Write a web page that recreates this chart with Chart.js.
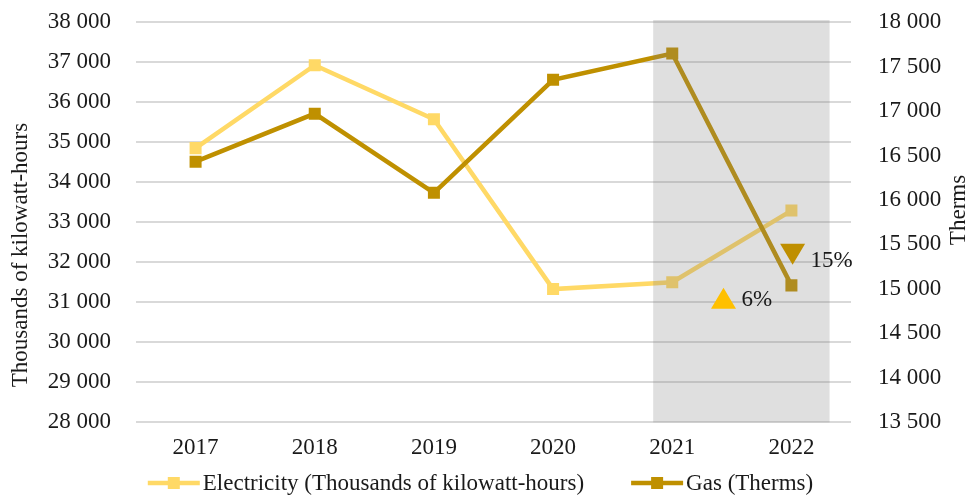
<!DOCTYPE html>
<html><head><meta charset="utf-8">
<script src="https://cdn.jsdelivr.net/npm/chart.js@4"></script>
<style>html,body{margin:0;padding:0;background:#fff}#wrap{width:969px;height:498px}</style>
</head><body><div id="wrap"><canvas id="c" width="969" height="498"></canvas></div>
<script>
const years = ['2017', '2018', '2019', '2020', '2021', '2022'];
const electricity = [34850, 36920, 35570, 31330, 31500, 33290];
const gas = [16430, 16970, 16080, 17350, 17645, 15040];
const electricityLabel = 'Electricity (Thousands of kilowatt-hours)';
const gasLabel = 'Gas (Therms)';
const leftTitle = 'Thousands of kilowatt-hours';
const rightTitle = 'Therms';
const changeTexts = ['6%', '15%'];
const changeDirections = ['up', 'down'];
const changeX = [4.43, 5.01];          // category position (index units)
const changeY = [31100, 32200];        // left-axis value
const shadeFromIndex = 4, shadeToIndex = 5;

const FONT = '"Liberation Serif", "Times New Roman", serif';
const FS = 23;
const TXT = '#1a1a1a';
const ELEC = '#FFD966', GAS = '#BF9000';
const fmt = v => String(v).replace(/\B(?=(\d{3})+(?!\d))/g, ' ');

const shadePlugin = {
  id: 'shade',
  afterDatasetsDraw(chart) {
    const {ctx, chartArea, scales: {x}} = chart;
    const step = x.getPixelForValue(1) - x.getPixelForValue(0);
    const x0 = x.getPixelForValue(shadeFromIndex) - 0.16 * step;
    const x1 = x.getPixelForValue(shadeToIndex) + 0.32 * step;
    ctx.save();
    ctx.fillStyle = 'rgba(128,128,128,0.25)';
    ctx.fillRect(x0, chartArea.top - 2, x1 - x0, chartArea.bottom - chartArea.top + 2);
    ctx.restore();
  }
};

const decoPlugin = {
  id: 'deco',
  afterDraw(chart) {
    const {ctx, chartArea, scales: {x, y}} = chart;
    const step = x.getPixelForValue(1) - x.getPixelForValue(0);
    ctx.save();
    changeTexts.forEach((t, i) => {
      const cx = x.getPixelForValue(0) + changeX[i] * step;
      const cy = y.getPixelForValue(changeY[i]);
      const w = 25, h = 21;
      ctx.beginPath();
      if (changeDirections[i] === 'up') {
        ctx.fillStyle = '#FFC000';
        ctx.moveTo(cx - w / 2, cy + h / 2); ctx.lineTo(cx + w / 2, cy + h / 2); ctx.lineTo(cx, cy - h / 2);
      } else {
        ctx.fillStyle = '#BF8F00';
        ctx.moveTo(cx - w / 2, cy - h / 2); ctx.lineTo(cx + w / 2, cy - h / 2); ctx.lineTo(cx, cy + h / 2);
      }
      ctx.closePath(); ctx.fill();
      ctx.fillStyle = TXT;
      ctx.font = FS + 'px ' + FONT;
      ctx.textAlign = 'left'; ctx.textBaseline = 'middle';
      ctx.fillText(t, cx + 18, cy + (changeDirections[i] === 'up' ? 2 : 7));
    });
    ctx.fillStyle = TXT;
    ctx.font = FS + 'px ' + FONT;
    ctx.textAlign = 'center'; ctx.textBaseline = 'middle';
    ctx.save(); ctx.translate(21, 255); ctx.rotate(-Math.PI / 2); ctx.fillText(leftTitle, 0, 0); ctx.restore();
    ctx.save(); ctx.translate(959, 210); ctx.rotate(-Math.PI / 2); ctx.fillText(rightTitle, 0, 0); ctx.restore();
    const items = [{label: electricityLabel, color: ELEC}, {label: gasLabel, color: GAS}];
    const symW = 52, gapT = 3, gapItems = 47;
    ctx.font = FS + 'px ' + FONT;
    const widths = items.map(it => symW + gapT + ctx.measureText(it.label).width);
    const total = widths.reduce((a, b) => a + b, 0) + gapItems;
    let lx = chart.width / 2 - 4 - total / 2;
    const ly = 484;
    items.forEach((it, i) => {
      ctx.strokeStyle = it.color; ctx.lineWidth = 4.5; ctx.lineCap = 'butt';
      ctx.beginPath(); ctx.moveTo(lx, ly - 1); ctx.lineTo(lx + symW, ly - 1); ctx.stroke();
      ctx.fillStyle = it.color; ctx.fillRect(lx + symW / 2 - 6, ly - 7, 12, 12);
      ctx.fillStyle = TXT; ctx.textAlign = 'left'; ctx.textBaseline = 'middle';
      ctx.fillText(it.label, lx + symW + gapT, ly);
      lx += widths[i] + gapItems;
    });
    ctx.restore();
  }
};

new Chart(document.getElementById('c'), {
  type: 'line',
  data: {
    labels: years,
    datasets: [
      {label: electricityLabel, data: electricity, yAxisID: 'y', borderColor: ELEC, backgroundColor: ELEC,
       borderWidth: 4.5, pointStyle: 'rect', pointRadius: 8.5, pointBorderWidth: 0, pointBackgroundColor: ELEC, order: 2, tension: 0},
      {label: gasLabel, data: gas, yAxisID: 'y1', borderColor: GAS, backgroundColor: GAS,
       borderWidth: 4.5, pointStyle: 'rect', pointRadius: 8.5, pointBorderWidth: 0, pointBackgroundColor: GAS, order: 1, tension: 0}
    ]
  },
  options: {
    responsive: false, animation: false, devicePixelRatio: 1,
    layout: {padding: {top: 22, bottom: 24, left: 0, right: 0}},
    plugins: {legend: {display: false}, tooltip: {enabled: false}, title: {display: false}},
    scales: {
      x: {
        offset: true,
        grid: {display: false, drawTicks: false},
        border: {display: false},
        ticks: {color: TXT, font: {family: FONT, size: FS}, padding: 12, maxRotation: 0}
      },
      y: {
        position: 'left', min: 28000, max: 38000,
        grid: {color: '#d9d9d9', lineWidth: 2, drawTicks: false},
        border: {display: false},
        ticks: {stepSize: 1000, color: TXT, font: {family: FONT, size: FS}, padding: 25, callback: v => fmt(v)},
        afterFit(s) { s.width = 136; s.paddingTop = 0; s.paddingBottom = 0; }
      },
      y1: {
        position: 'right', min: 13500, max: 18000,
        grid: {display: false, drawTicks: false},
        border: {display: false},
        ticks: {stepSize: 500, color: TXT, font: {family: FONT, size: FS}, padding: 27, callback: v => fmt(v)},
        afterFit(s) { s.width = 118; s.paddingTop = 0; s.paddingBottom = 0; }
      }
    }
  },
  plugins: [shadePlugin, decoPlugin]
});
</script></body></html>
